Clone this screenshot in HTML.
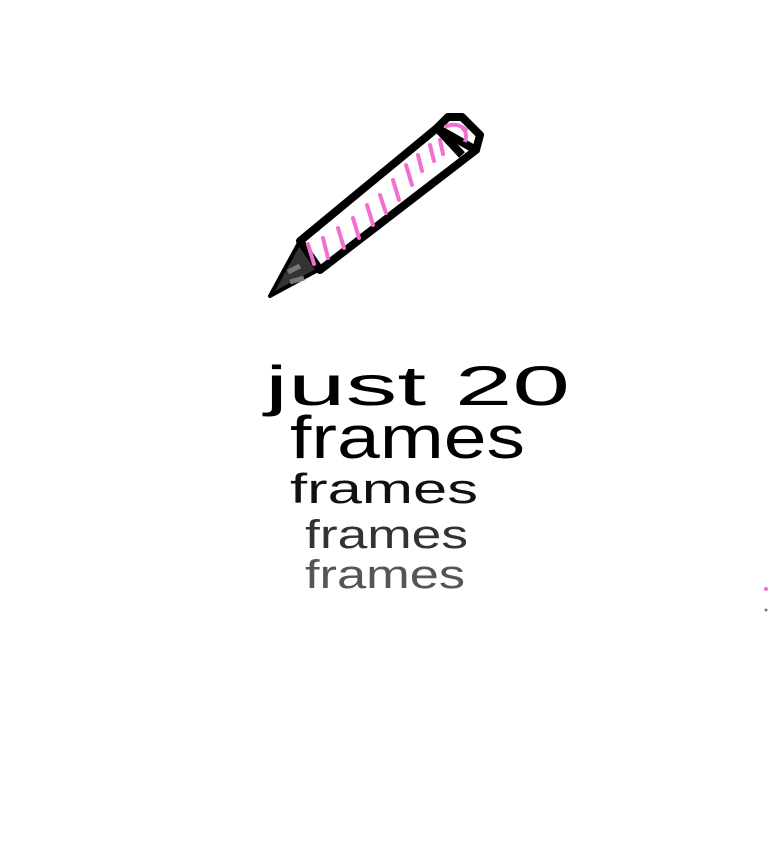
<!DOCTYPE html>
<html><head><style>html,body{margin:0;padding:0;background:#fff;width:768px;height:866px;overflow:hidden}</style></head>
<body>
<svg width="768" height="866" viewBox="0 0 768 866" xmlns="http://www.w3.org/2000/svg">
<rect width="768" height="866" fill="#fff"/>
<!-- pencil tip -->
<polygon points="270,296 300,241 318,270" fill="#333" stroke="#000" stroke-width="4" stroke-linejoin="round"/>
<path d="M288,272 l12,-6 M290,282 l14,-4" stroke="#777" stroke-width="5"/>
<!-- body -->
<polygon points="300,241 437,128 476,150 320,270" fill="#fff" stroke="#000" stroke-width="8" stroke-linejoin="round"/>
<!-- cap -->
<path d="M437,128 L448,117 L462,117 L480,135 L476,150 Z" fill="#fff" stroke="#000" stroke-width="8" stroke-linejoin="round"/>
<line x1="437" y1="128" x2="462" y2="155" stroke="#000" stroke-width="8"/>
<path d="M445,127 q12,-6 22,4 M462,128 q6,4 3,14" stroke="#f070d0" stroke-width="4" fill="none"/>
<g stroke="#f070d0" stroke-width="4" fill="none" stroke-linecap="round">
<path d="M308,244 l6,20"/><path d="M323,238 l5,20"/><path d="M338,228 l6,20"/><path d="M353,218 l6,20"/>
<path d="M367,205 l6,20"/><path d="M380,195 l6,18"/><path d="M393,180 l6,20"/><path d="M406,165 l6,20"/>
<path d="M418,155 l4,16"/><path d="M430,145 l4,16"/><path d="M440,140 l3,14"/>
</g>
<!-- text -->
<g font-family="Liberation Sans, sans-serif" font-weight="normal">
<text x="265" y="405" font-size="56" textLength="305" lengthAdjust="spacingAndGlyphs" fill="#000">just  20</text>
<text x="290" y="458" font-size="60" textLength="235" lengthAdjust="spacingAndGlyphs" fill="#000">frames</text>
<text x="290" y="503" font-size="42" textLength="188" lengthAdjust="spacingAndGlyphs" fill="#111">frames</text>
<text x="305" y="548" font-size="40" textLength="163" lengthAdjust="spacingAndGlyphs" fill="#333">frames</text>
<text x="305" y="588" font-size="40" textLength="160" lengthAdjust="spacingAndGlyphs" fill="#555">frames</text>
</g>
<circle cx="766" cy="589" r="2" fill="#f070d0"/>
<circle cx="766" cy="610" r="1.5" fill="#777"/>
</svg>
</body></html>
